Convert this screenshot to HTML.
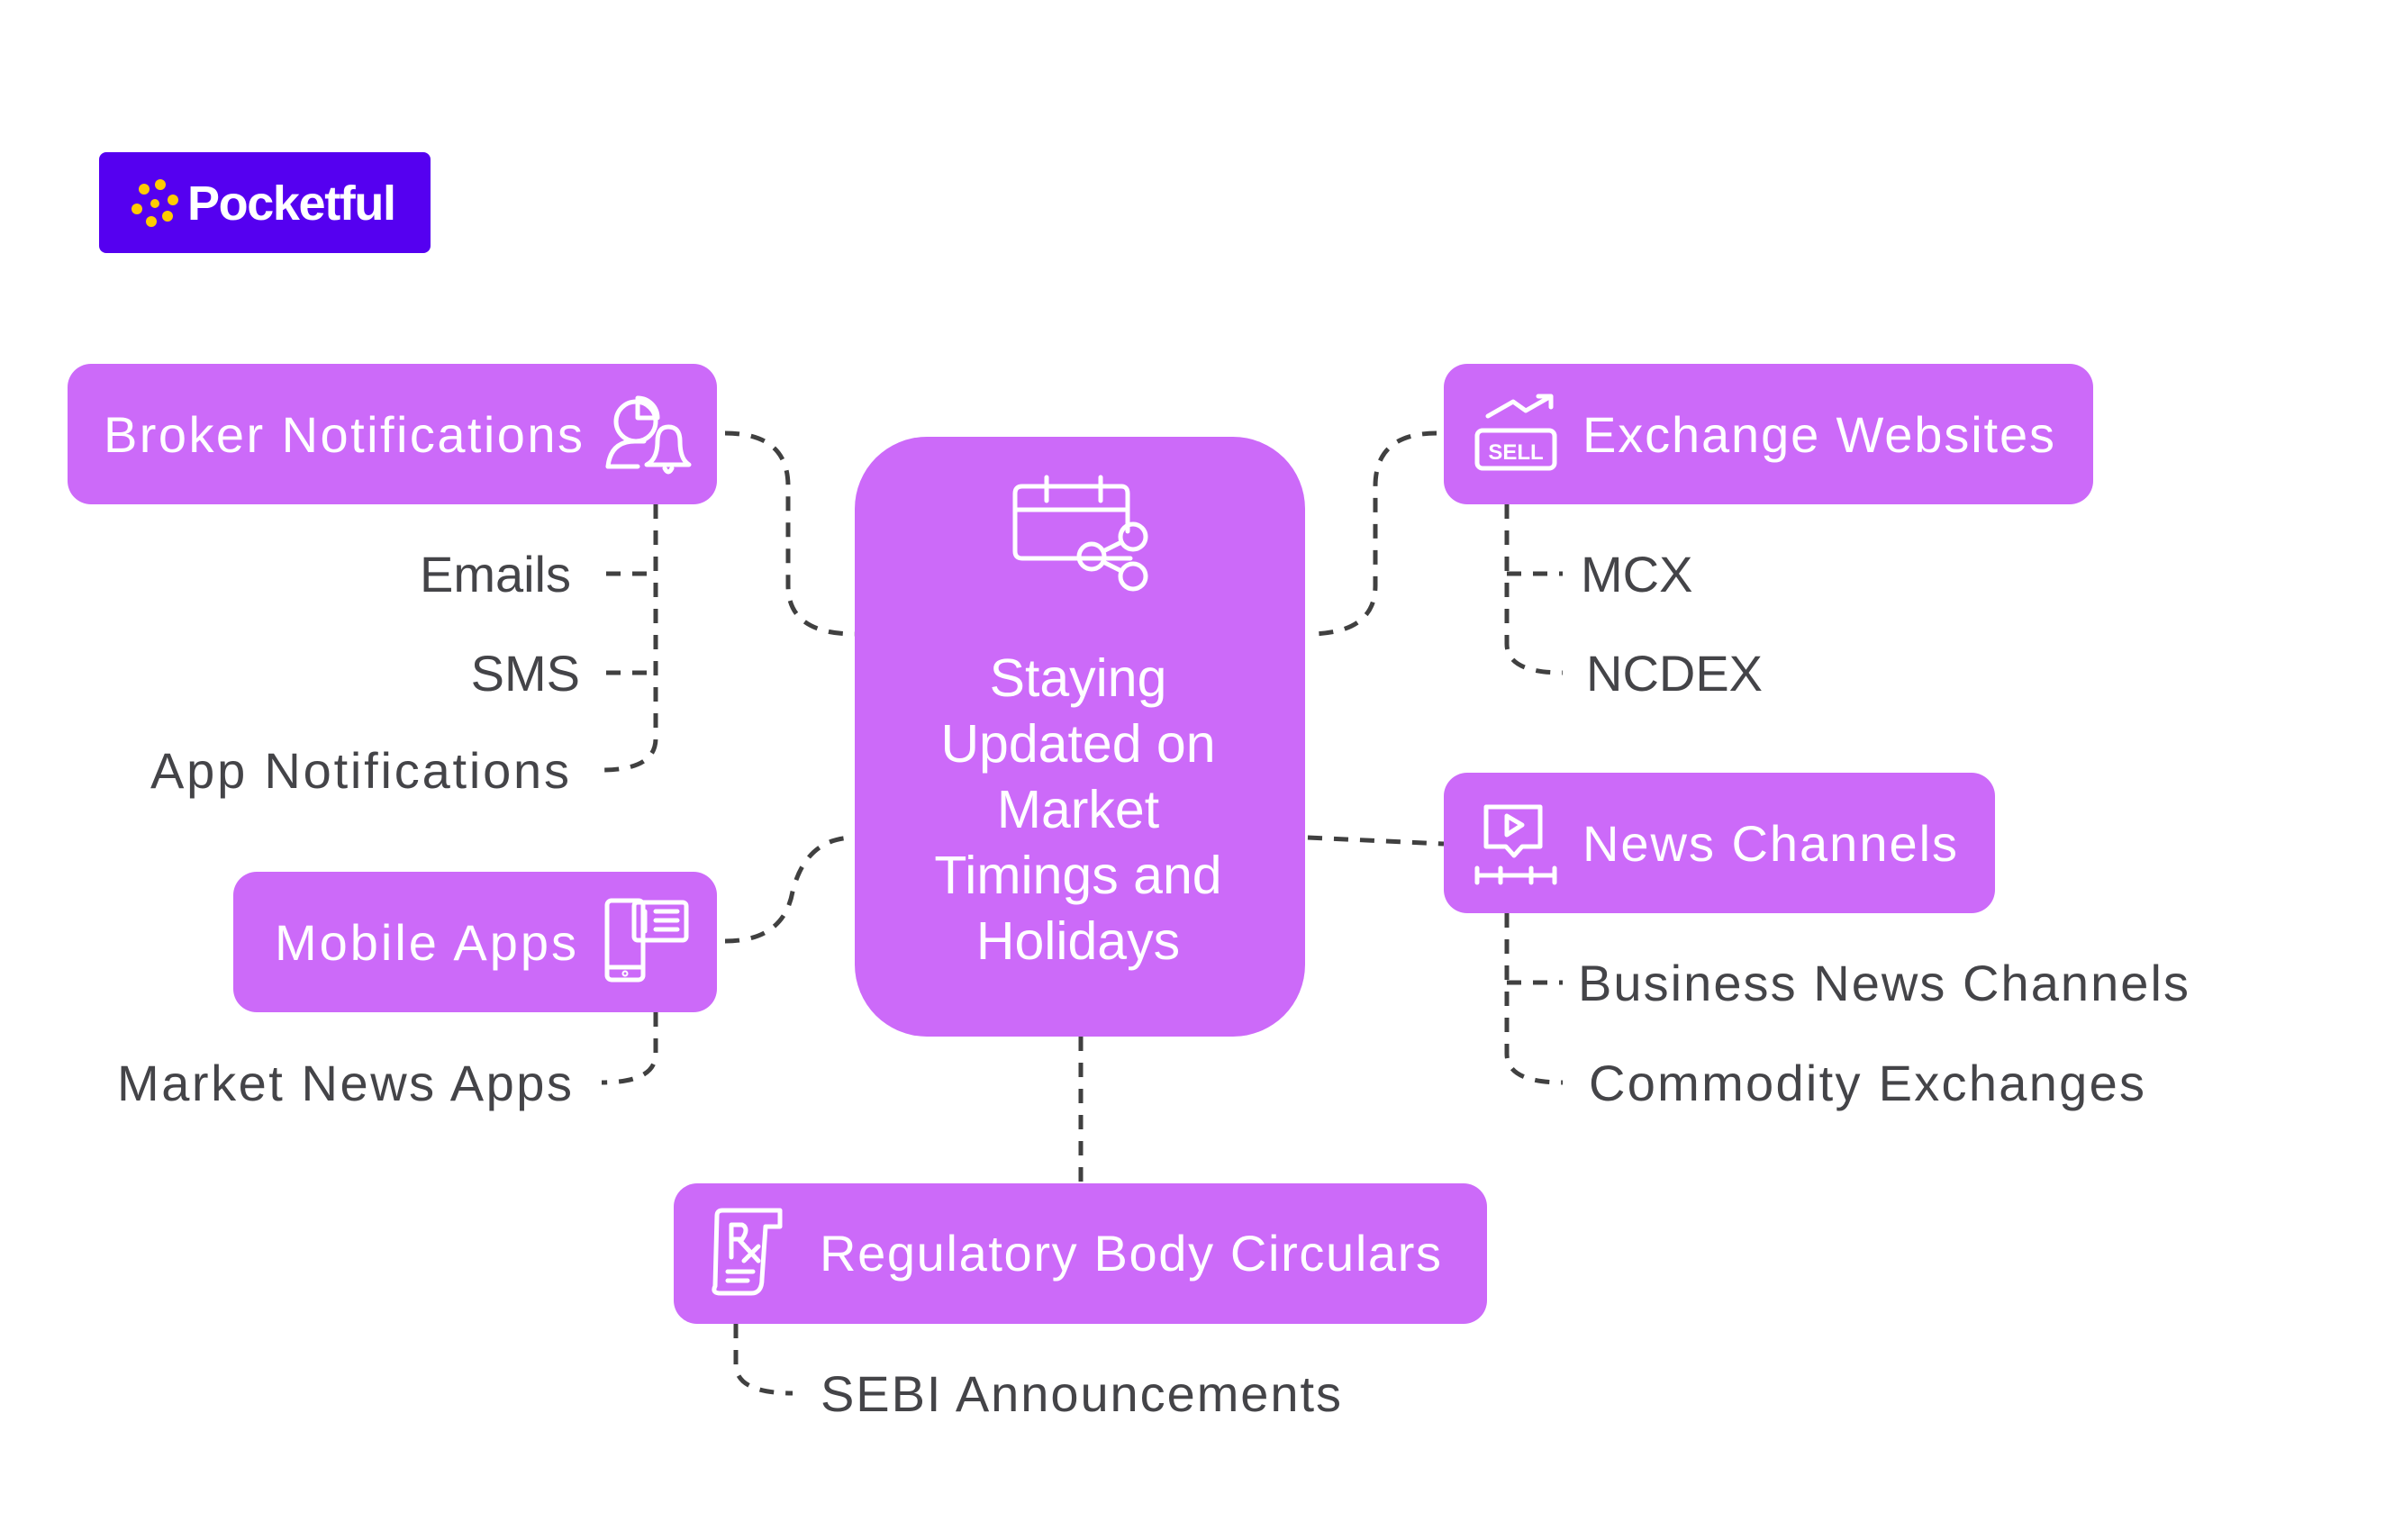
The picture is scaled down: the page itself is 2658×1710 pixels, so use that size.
<!DOCTYPE html>
<html><head><meta charset="utf-8"><style>
html,body{margin:0;padding:0;background:#fff;}
svg{display:block;}
text{font-family:"Liberation Sans",sans-serif;}
</style></head><body>
<svg width="2658" height="1710" viewBox="0 0 2658 1710" xmlns="http://www.w3.org/2000/svg">
<!-- logo -->
<rect x="110" y="169" width="368" height="112" rx="8" fill="#5500f0"/>
<g fill="#ffcc00">
<circle cx="160" cy="210" r="6"/><circle cx="178" cy="205" r="6"/><circle cx="192" cy="222" r="6"/><circle cx="186" cy="240" r="6"/><circle cx="168" cy="246" r="6"/><circle cx="152" cy="232" r="6"/>
<circle cx="172" cy="226" r="5"/>
</g>
<text x="208" y="244" font-size="54" font-weight="bold" fill="#fff" textLength="232">Pocketful</text>

<!-- connectors -->
<g fill="none" stroke="#404040" stroke-width="5" stroke-dasharray="16 13">
<path d="M805 481 Q875 481 875 540 L875 650 Q875 704 949 704"/>
<path d="M805 1045 Q870 1045 880 990 Q895 930 949 930"/>
<path d="M1595 481 Q1527 481 1527 540 L1527 650 Q1527 704 1452 704"/>
<path d="M1452 930 L1603 937"/>
<path d="M1200 1151 L1200 1314"/>
<path d="M728 560 L728 820 Q728 855 668 855"/>
<path d="M673 637 L728 637"/>
<path d="M673 747 L728 747"/>
<path d="M728 1124 L728 1170 Q728 1202 668 1202"/>
<path d="M1673 560 L1673 715 Q1673 747 1735 747"/>
<path d="M1673 637 L1735 637"/>
<path d="M1673 1014 L1673 1170 Q1673 1202 1735 1202"/>
<path d="M1673 1091 L1735 1091"/>
<path d="M817 1470 L817 1515 Q817 1547 880 1547"/>
</g>

<!-- boxes -->
<g fill="#cc6af9">
<rect x="75" y="404" width="721" height="156" rx="26"/>
<rect x="259" y="968" width="537" height="156" rx="26"/>
<rect x="949" y="485" width="500" height="666" rx="80"/>
<rect x="1603" y="404" width="721" height="156" rx="26"/>
<rect x="1603" y="858" width="612" height="156" rx="26"/>
<rect x="748" y="1314" width="903" height="156" rx="26"/>
</g>

<!-- icons -->
<g fill="none" stroke="#fff" stroke-width="5" stroke-linecap="round" stroke-linejoin="round">
<circle cx="706" cy="468" r="22"/><path d="M708 442 A22 22 0 0 1 730 464 L708 464 Z"/>
<path d="M675 518 Q678 490 705 490 L715 490"/><path d="M675 518 L708 518"/>
<path d="M718 516 Q730 510 730 490 Q730 474 742 474 Q755 474 755 490 Q755 510 765 516 Z"/><path d="M738 520 Q742 528 746 520"/>
<rect x="674" y="1000" width="40" height="88" rx="5"/><path d="M674 1074 L714 1074"/><circle cx="694" cy="1081" r="1"/>
<rect x="704" y="1002" width="58" height="42" rx="4"/><path d="M716 1012 L716 1034 M728 1012 L752 1012 M728 1022 L752 1022 M728 1032 L752 1032"/>
<path d="M1255 620 L1135 620 Q1127 620 1127 612 L1127 578 L1127 548 Q1127 540 1135 540 L1245 540 Q1252 540 1252 548 L1252 590"/>
<path d="M1127 566 L1252 566 M1162 530 L1162 556 M1222 530 L1222 556"/>
<circle cx="1258" cy="640" r="14"/><circle cx="1258" cy="596" r="14"/><circle cx="1212" cy="618" r="14"/>
<path d="M1225 612 L1245 602 M1225 624 L1245 634"/>
<path d="M1652 462 L1680 446 L1694 456 L1722 440 M1708 440 L1722 440 L1722 452"/>
<rect x="1640" y="478" width="86" height="42" rx="6"/>
<path d="M1650 896 L1710 896 L1710 940 L1690 940 L1681 950 L1672 940 L1650 940 Z"/>
<path d="M1673 906 L1690 916 L1673 927 Z"/>
<path d="M1640 972 L1726 972 M1640 964 L1640 980 M1666 964 L1666 980 M1700 964 L1700 980 M1726 964 L1726 980"/>
<path d="M800 1436 Q790 1436 794 1428 L796 1350 Q796 1344 802 1344 L866 1344 L866 1362 L850 1362 L846 1420 Q846 1436 834 1436 Z"/>
<path d="M812 1396 L812 1360 L824 1360 Q832 1364 824 1376 L812 1376 M820 1376 L842 1400 M842 1384 L826 1400 M808 1412 L836 1412 M808 1422 L830 1422"/>
</g>
<text x="1683" y="510" font-size="24" font-weight="bold" fill="#fff" text-anchor="middle">SELL</text>

<g fill="#fff" font-size="56">
<text x="115" y="502" textLength="532">Broker Notifications</text>
<text x="305" y="1066" textLength="335">Mobile Apps</text>
<text x="1757" y="502" textLength="524">Exchange Websites</text>
<text x="1757" y="956" textLength="416">News Channels</text>
<text x="910" y="1411" textLength="690">Regulatory Body Circulars</text>
<g text-anchor="middle" font-size="59">
<text x="1197" y="773">Staying</text>
<text x="1197" y="846">Updated on</text>
<text x="1197" y="919">Market</text>
<text x="1197" y="992">Timings and</text>
<text x="1197" y="1065">Holidays</text>
</g>
</g>

<g fill="#444448" font-size="56">
<g text-anchor="end">
<text x="634" y="657">Emails</text>
<text x="644" y="767">SMS</text>
<text x="632" y="875" textLength="465">App Notifications</text>
<text x="635" y="1222" textLength="505">Market News Apps</text>
</g>
<text x="1755" y="657">MCX</text>
<text x="1761" y="767">NCDEX</text>
<text x="1752" y="1111" textLength="678">Business News Channels</text>
<text x="1764" y="1222" textLength="617">Commodity Exchanges</text>
<text x="911" y="1567" textLength="578">SEBI Announcements</text>
</g>
</svg>
</body></html>
